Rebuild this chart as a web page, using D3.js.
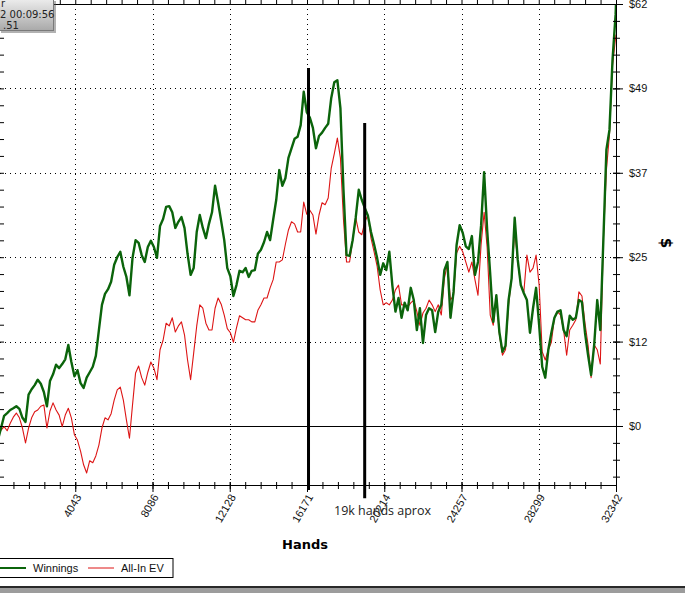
<!DOCTYPE html>
<html><head><meta charset="utf-8">
<script src="https://cdn.jsdelivr.net/npm/d3@7"></script>
<style>body{margin:0;background:#fff;overflow:hidden}svg{display:block}</style>
</head><body><svg id="c" width="685" height="593"></svg>
<script>
// ---- data ----
const hands = [0,160,320,480,640,800,960,1120,1280,1440,
1600,1760,1920,2080,2240,2400,2560,2720,2880,3040,
3200,3360,3520,3680,3840,4000,4160,4320,4480,4640,
4800,4960,5120,5280,5440,5600,5760,5920,6080,6240,
6400,6560,6720,6880,7040,7200,7360,7520,7680,7840,
8000,8160,8320,8480,8640,8800,8960,9120,9280,9440,
9600,9760,9920,10080,10240,10400,10560,10720,10880,11040,
11200,11360,11520,11680,11840,12000,12160,12320,12480,12640,
12800,12960,13120,13280,13440,13600,13760,13920,14080,14240,
14400,14560,14720,14880,15040,15200,15360,15520,15680,15840,
16000,16160,16320,16480,16640,16800,16960,17120,17280,17440,
17600,17760,17920,18080,18240,18400,18560,18720,18880,19040,
19200,19360,19520,19680,19840,20000,20160,20320,20480,20640,
20800,20960,21120,21280,21440,21600,21760,21920,22080,22240,
22400,22560,22720,22880,23040,23200,23360,23520,23680,23840,
24000,24160,24320,24480,24640,24800,24960,25120,25280,25440,
25600,25760,25920,26080,26240,26400,26560,26720,26880,27040,
27200,27360,27520,27680,27840,28000,28160,28320,28480,28640,
28800,28960,29120,29280,29440,29600,29760,29920,30080,30240,
30400,30560,30720,30880,31040,31200,31360,31520,31680,31840,
32000,32160,32320,32342];

const winnings = [-2.0,-0.3,1.5,1.9,2.35,2.6,2.9,2.5,1.2,0.6,
4.6,5.4,6.0,6.8,6.2,5.0,2.9,6.6,7.6,9.0,
8.5,9.1,9.8,11.9,9.4,7.3,8.2,6.3,5.6,7.1,
7.9,8.7,10.3,14.1,17.8,19.4,20.1,21.2,23.7,24.8,
25.6,23.4,21.9,19.2,24.7,27.3,26.9,25.1,24.1,26.3,
27.2,26.3,24.7,29.4,30.4,32.2,32.3,31.4,29.1,30.0,
30.7,29.1,25.3,22.2,23.2,28.5,31.0,29.1,27.6,29.7,
31.4,35.3,32.8,30.1,27.3,23.2,22.0,19.1,20.7,22.8,
22.6,23.2,21.9,22.8,22.9,25.3,25.9,27.0,28.5,27.3,
30.3,33.2,37.6,35.3,36.4,39.4,40.8,42.2,42.5,44.2,
49.1,46.1,45.3,43.8,40.8,42.6,43.1,43.8,44.4,48.2,
50.5,50.8,46.7,34.7,25.1,25.0,27.3,30.6,34.7,33.2,
32.0,30.9,28.5,26.7,24.7,22.2,23.9,22.9,25.6,20.6,
16.8,18.8,15.9,18.1,17.0,20.3,18.5,14.1,17.3,12.2,
16.3,17.3,17.0,13.8,16.8,17.8,22.9,24.1,15.9,19.7,
26.6,29.5,28.4,26.4,26.0,27.9,22.2,24.1,29.4,37.3,
28.8,22.3,15.3,19.2,13.8,10.9,11.8,18.5,21.7,30.6,
24.4,20.7,19.5,18.5,13.7,17.3,20.3,14.8,8.7,7.1,
11.2,13.7,15.9,16.8,17.0,14.1,13.2,16.2,15.6,15.9,
18.5,18.2,13.7,10.4,7.5,11.9,18.5,14.1,27.3,40.6,
43.5,53.8,60.4,62.0];

const allInEV = [-0.9,-0.6,-0.1,-0.7,0.4,1.3,1.9,1.2,-0.3,-2.5,
-0.3,1.2,2.1,2.35,2.9,3.1,-0.3,2.2,3.4,2.35,
1.6,-0.1,1.6,2.6,1.2,-1.3,-2.1,-3.7,-5.7,-6.9,
-5.1,-5.4,-4.4,-2.8,-0.3,1.2,0.9,1.8,3.8,5.3,
5.7,3.8,0.9,-1.8,3.1,7.8,8.8,7.1,6.0,7.9,
9.4,8.5,6.8,11.2,12.6,15.1,14.7,15.9,13.8,14.7,
15.3,13.4,9.7,6.8,10.7,14.7,17.8,17.3,15.1,14.1,
14.1,17.3,18.8,17.9,16.3,14.3,13.7,12.3,14.4,16.2,
15.9,15.6,15.6,15.3,15.3,17.0,17.8,18.8,18.8,20.3,
21.5,24.1,24.1,24.4,26.7,28.8,30.0,29.7,28.5,28.5,
32.9,31.1,31.7,31.0,28.2,31.0,32.8,32.5,33.5,37.9,
40.0,42.3,39.4,30.3,24.1,24.1,27.3,30.6,28.5,28.1,
30.0,31.0,27.6,25.6,23.5,20.0,17.8,18.1,17.8,18.5,
20.0,20.7,17.8,17.8,17.5,18.1,18.5,16.8,14.8,16.6,
17.3,18.5,17.8,16.8,17.8,16.3,21.7,23.8,18.5,19.2,
25.4,26.4,25.6,24.1,22.6,24.1,21.5,19.2,26.6,31.4,
26.2,16.3,14.8,19.2,13.4,10.4,11.2,17.8,21.7,28.8,
24.1,20.7,19.7,25.1,22.6,23.2,25.1,20.7,10.9,9.7,
11.2,12.3,15.9,16.8,16.3,14.1,10.4,14.1,14.8,15.6,
19.7,19.1,15.1,11.9,7.1,11.9,11.2,9.1,27.3,37.6,
42.8,53.0,57.0,57.5];

const xTickValues = [4043,8086,12128,16171,20214,24257,28299,32342];
const xTickLabels = ["4043","8086","12128","16171","20214","24257","28299","32342"];
const yTickValues = [0,12.4,24.8,37.2,49.6,62];
const yTickLabels = ["$0","$12","$25","$37","$49","$62"];
const seriesNames = ["Winnings","All-In EV"];
const seriesColors = ["#0b640b","#dd1515"];
const markerHands = [16250, 19190];
const markerTop = [52.6, 44.5];
const markerBottom = [-9.4, -10.6];
const annotation = "19k hands aprox";
const tooltipLines = ["r","2 00:09:56",".51"];

// ---- scales ----
const svg = d3.select("#c");
const x = d3.scaleLinear().domain([0, 32342]).range([-2, 616]);
const y = d3.scaleLinear().domain([-8.67, 62]).range([485, 4]);
const xMinor = d3.range(0, 32342 + 1, 32342/40);
const yMinor = d3.range(-7.44, 62.01, 2.48);

const defs = svg.append("defs");
defs.append("clipPath").attr("id","clip").append("rect")
  .attr("x",-5).attr("y",2).attr("width",622).attr("height",483);
const grad = defs.append("linearGradient").attr("id","tg").attr("x1",0).attr("y1",0).attr("x2",0).attr("y2",1);
grad.append("stop").attr("offset","0%").attr("stop-color","#eeeeee");
grad.append("stop").attr("offset","100%").attr("stop-color","#a9a9a9");

// grid
const grid = svg.append("g").attr("stroke","#000").attr("stroke-dasharray","1,4").attr("shape-rendering","crispEdges");
grid.selectAll(".hg").data(yTickValues.filter(v => v !== 0 && v !== 62)).join("line")
  .attr("x1",0).attr("x2",616).attr("y1",d=>Math.round(y(d))+0.5).attr("y2",d=>Math.round(y(d))+0.5);
grid.selectAll(".vg").data(xTickValues.slice(0,-1)).join("line")
  .attr("y1",4).attr("y2",485).attr("x1",d=>Math.round(x(d))+0.5).attr("x2",d=>Math.round(x(d))+0.5);

// zero line
svg.append("line").attr("x1",0).attr("x2",623).attr("y1",Math.round(y(0))+0.5).attr("y2",Math.round(y(0))+0.5)
  .attr("stroke","#000").attr("shape-rendering","crispEdges");

// series
const line = d3.line().x((d,i)=>x(hands[i])).y(d=>y(d));
const plot = svg.append("g").attr("clip-path","url(#clip)");
plot.append("path").attr("d", line(allInEV)).attr("fill","none").attr("stroke",seriesColors[1]).attr("stroke-width",1.1).attr("stroke-linejoin","round");
plot.append("path").attr("d", line(winnings)).attr("fill","none").attr("stroke",seriesColors[0]).attr("stroke-width",2.4).attr("stroke-linejoin","round");

// marker lines
svg.selectAll(".mk").data(markerHands).join("line")
  .attr("x1",d=>x(d)).attr("x2",d=>x(d))
  .attr("y1",(d,i)=>y(markerTop[i])).attr("y2",(d,i)=>y(markerBottom[i]))
  .attr("stroke","#000").attr("stroke-width",3);

// axes
const fontTick = "'Liberation Sans', Arial, sans-serif";
// right major
const ra = svg.append("g").attr("transform","translate(616,0)")
  .call(d3.axisRight(y).tickValues(yTickValues).tickFormat((d,i)=>yTickLabels[i]).tickSize(7).tickSizeOuter(0).tickPadding(6));
ra.selectAll(".tick line").attr("x1",-3);
ra.selectAll("text").attr("font-family",fontTick).attr("font-size",11).attr("fill","#111");
ra.select(".domain").attr("stroke","#000");
// right minor
const rm = svg.append("g").attr("transform","translate(616,0)")
  .call(d3.axisRight(y).tickValues(yMinor).tickFormat("").tickSize(4));
rm.select(".domain").remove();
rm.selectAll(".tick line").attr("x1",-3);
// left ticks
const la = svg.append("g").attr("transform","translate(-1,0)")
  .call(d3.axisRight(y).tickValues(yMinor).tickFormat("").tickSize(5));
la.select(".domain").remove();

// bottom major
const ba = svg.append("g").attr("transform","translate(0,485)")
  .call(d3.axisBottom(x).tickValues(xTickValues).tickFormat((d,i)=>xTickLabels[i]).tickSize(7).tickSizeOuter(0));
ba.selectAll(".tick line").attr("y1",-3);
ba.selectAll("text").attr("font-family",fontTick).attr("font-size",11).attr("fill","#111")
  .attr("text-anchor","end").attr("dy",0).attr("y",0)
  .attr("transform","translate(6,12) rotate(-60)");
// bottom minor
const bm = svg.append("g").attr("transform","translate(0,485)")
  .call(d3.axisBottom(x).tickValues(xMinor).tickFormat("").tickSize(4));
bm.select(".domain").remove();
bm.selectAll(".tick line").attr("y1",-3);
// top
const ta = svg.append("g").attr("transform","translate(0,4)")
  .call(d3.axisTop(x).tickValues(xMinor).tickFormat("").tickSize(4).tickSizeOuter(0));
svg.selectAll(".domain").attr("shape-rendering","crispEdges");

// axis titles
svg.append("text").attr("x",305).attr("y",549).attr("text-anchor","middle")
  .attr("font-family","'DejaVu Sans', sans-serif").attr("font-weight","bold").attr("font-size",13).text("Hands");
svg.append("text").attr("transform","translate(661,243) rotate(90)").attr("text-anchor","middle")
  .attr("font-family","'DejaVu Sans', sans-serif").attr("font-weight","bold").attr("font-size",15).text("$");

// annotation
svg.append("text").attr("x",334).attr("y",515).attr("font-family","'Open Sans', sans-serif")
  .attr("font-size",12.5).attr("fill","#222").text(annotation);

// legend
const lg = svg.append("g");
lg.append("rect").attr("x",-1).attr("y",558.5).attr("width",174).attr("height",19).attr("fill","#fff").attr("stroke","#000");
[0,1].forEach(i=>{
  const x0 = i===0 ? 0 : 88;
  lg.append("line").attr("x1",x0).attr("x2",x0+26).attr("y1",568).attr("y2",568)
    .attr("stroke",seriesColors[i]).attr("stroke-width",i===0?2:1);
  lg.append("text").attr("x",x0+33).attr("y",572).attr("font-family",fontTick).attr("font-size",11)
    .attr("fill","#111").text(seriesNames[i]);
});

// tooltip box (top-left)
svg.append("rect").attr("x",1).attr("y",1).attr("width",55).attr("height",32).attr("fill","#555").attr("opacity",0.45);
svg.append("rect").attr("x",-1.5).attr("y",-1.5).attr("width",55).attr("height",32).attr("fill","url(#tg)").attr("stroke","#7a7a7a");
svg.selectAll(".tt").data(tooltipLines).join("text")
  .attr("x",(d,i)=>[1,0,3][i]).attr("y",(d,i)=>[7,18,29][i])
  .attr("font-family","'DejaVu Sans', sans-serif").attr("font-size",10).attr("fill","#222").text(d=>d);

// bottom frame bar
svg.append("rect").attr("x",0).attr("y",586).attr("width",685).attr("height",2).attr("fill","#2a2a2a");
svg.append("rect").attr("x",0).attr("y",588).attr("width",685).attr("height",5).attr("fill","#9c9c9c");
</script></body></html>
